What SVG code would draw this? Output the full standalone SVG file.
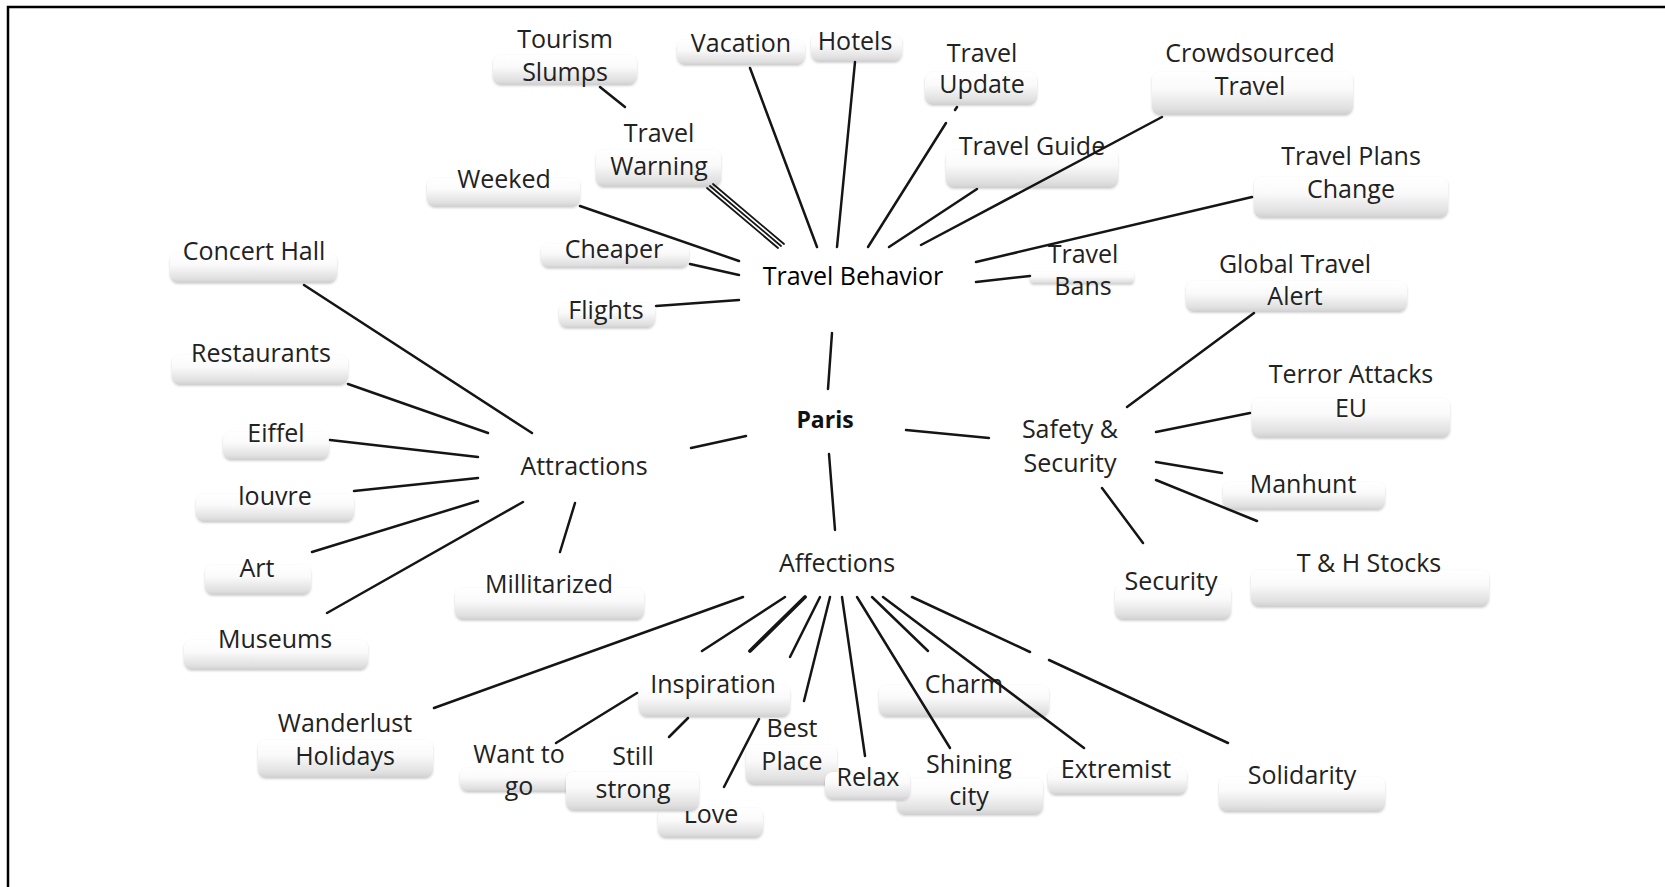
<svg xmlns="http://www.w3.org/2000/svg" width="1665" height="887" viewBox="0 0 1665 887">
<defs>
<linearGradient id="bg" x1="0" y1="0" x2="0" y2="1">
<stop offset="0" stop-color="#ffffff"/>
<stop offset="0.4" stop-color="#fafafa"/>
<stop offset="0.85" stop-color="#e0e0e0"/>
<stop offset="1" stop-color="#cfcfcf"/>
</linearGradient>
<filter id="sh" x="-10%" y="-20%" width="120%" height="150%">
<feDropShadow dx="0" dy="1" stdDeviation="1.2" flood-color="#000" flood-opacity="0.18"/>
</filter>
<style>
.box{fill:url(#bg);filter:url(#sh)}
.lbl{font-family:"Open Sans","Liberation Sans",sans-serif;font-size:25px;fill:#222;text-anchor:middle}
.main{font-family:"Open Sans","Liberation Sans",sans-serif;font-size:25px;fill:#000;text-anchor:middle}
.bold{font-family:"Open Sans","Liberation Sans",sans-serif;font-size:23px;font-weight:bold;fill:#111;text-anchor:middle}
.con line{stroke:#151515;stroke-width:2.5;stroke-linecap:round}
.frame{fill:none;stroke:#000;stroke-width:2.5}
</style>
</defs>
<rect width="1665" height="887" fill="#fff"/>
<path class="frame" d="M8,887 V7 H1665"/>

<g id="nodes">
<g id="n-tourism-slumps"><rect class="box" x="493" y="55" width="144" height="30" rx="8"/><text class="lbl"><tspan x="565" y="48">Tourism</tspan><tspan x="565" y="81">Slumps</tspan></text></g>
<g id="n-vacation"><rect class="box" x="677" y="40" width="128" height="25" rx="8"/><text class="lbl" x="741" y="52">Vacation</text></g>
<g id="n-hotels"><rect class="box" x="811" y="34" width="91" height="28" rx="8"/><text class="lbl" x="855" y="50">Hotels</text></g>
<g id="n-travel-update"><rect class="box" x="925" y="72" width="112" height="33" rx="8"/><text class="lbl"><tspan x="982" y="62">Travel</tspan><tspan x="982" y="93">Update</tspan></text></g>
<g id="n-crowdsourced"><rect class="box" x="1152" y="72" width="201" height="43" rx="8"/><text class="lbl"><tspan x="1250" y="62">Crowdsourced</tspan><tspan x="1250" y="95">Travel</tspan></text></g>
<g id="n-travel-warning"><rect class="box" x="596" y="150" width="125" height="37" rx="8"/><text class="lbl"><tspan x="659" y="142">Travel</tspan><tspan x="659" y="175">Warning</tspan></text></g>
<g id="n-travel-guide"><rect class="box" x="946" y="150" width="172" height="38" rx="8"/><text class="lbl" x="1032" y="155">Travel Guide</text></g>
<g id="n-weeked"><rect class="box" x="427" y="178" width="153" height="29" rx="8"/><text class="lbl" x="504" y="188">Weeked</text></g>
<g id="n-travel-plans-change"><rect class="box" x="1254" y="177" width="194" height="41" rx="8"/><text class="lbl"><tspan x="1351" y="165">Travel Plans</tspan><tspan x="1351" y="198">Change</tspan></text></g>
<g id="n-cheaper"><rect class="box" x="541" y="244" width="148" height="24" rx="8"/><text class="lbl" x="614" y="258">Cheaper</text></g>
<g id="n-flights"><rect class="box" x="559" y="303" width="96" height="25" rx="8"/><text class="lbl" x="606" y="319">Flights</text></g>
<g id="n-travel-bans"><rect class="box" x="1030" y="272" width="104" height="12" rx="4"/><text class="lbl"><tspan x="1083" y="263">Travel</tspan><tspan x="1083" y="295">Bans</tspan></text></g>
<g id="n-travel-behavior"><text class="main" x="853" y="285">Travel Behavior</text></g>
<g id="n-global-travel-alert"><rect class="box" x="1186" y="281" width="221" height="31" rx="8"/><text class="lbl"><tspan x="1295" y="273">Global Travel</tspan><tspan x="1295" y="305">Alert</tspan></text></g>
<g id="n-concert-hall"><rect class="box" x="170" y="253" width="167" height="30" rx="8"/><text class="lbl" x="254" y="260">Concert Hall</text></g>
<g id="n-restaurants"><rect class="box" x="172" y="355" width="176" height="30" rx="8"/><text class="lbl" x="261" y="362">Restaurants</text></g>
<g id="n-paris"><text class="bold" x="825" y="428">Paris</text></g>
<g id="n-terror-attacks-eu"><rect class="box" x="1252" y="398" width="198" height="40" rx="8"/><text class="lbl"><tspan x="1351" y="383">Terror Attacks</tspan><tspan x="1351" y="417">EU</tspan></text></g>
<g id="n-eiffel"><rect class="box" x="223" y="432" width="106" height="28" rx="8"/><text class="lbl" x="276" y="442">Eiffel</text></g>
<g id="n-attractions"><text class="lbl" x="584" y="475">Attractions</text></g>
<g id="n-safety-security"><text class="lbl"><tspan x="1070" y="438">Safety &amp;</tspan><tspan x="1070" y="472">Security</tspan></text></g>
<g id="n-louvre"><rect class="box" x="196" y="494" width="158" height="28" rx="8"/><text class="lbl" x="275" y="505">louvre</text></g>
<g id="n-manhunt"><rect class="box" x="1223" y="482" width="162" height="28" rx="8"/><text class="lbl" x="1303" y="493">Manhunt</text></g>
<g id="n-affections"><text class="lbl" x="837" y="572">Affections</text></g>
<g id="n-art"><rect class="box" x="205" y="565" width="106" height="30" rx="8"/><text class="lbl" x="257" y="577">Art</text></g>
<g id="n-millitarized"><rect class="box" x="455" y="588" width="189" height="32" rx="8"/><text class="lbl" x="549" y="593">Millitarized</text></g>
<g id="n-security"><rect class="box" x="1115" y="585" width="116" height="35" rx="8"/><text class="lbl" x="1171" y="590">Security</text></g>
<g id="n-th-stocks"><rect class="box" x="1251" y="570" width="238" height="37" rx="8"/><text class="lbl" x="1369" y="572">T &amp; H Stocks</text></g>
<g id="n-museums"><rect class="box" x="184" y="640" width="184" height="30" rx="8"/><text class="lbl" x="275" y="648">Museums</text></g>
<g id="n-inspiration"><rect class="box" x="639" y="685" width="151" height="32" rx="8"/><text class="lbl" x="713" y="693">Inspiration</text></g>
<g id="n-charm"><rect class="box" x="879" y="685" width="170" height="32" rx="8"/><text class="lbl" x="964" y="693">Charm</text></g>
<g id="n-wanderlust-holidays"><rect class="box" x="258" y="740" width="175" height="38" rx="8"/><text class="lbl"><tspan x="345" y="732">Wanderlust</tspan><tspan x="345" y="765">Holidays</tspan></text></g>
<g id="n-love"><rect class="box" x="658" y="808" width="105" height="30" rx="8"/><text class="lbl" x="711" y="823">Love</text></g>
<g id="n-want-to-go"><rect class="box" x="460" y="768" width="116" height="24" rx="8"/><text class="lbl"><tspan x="519" y="763">Want to</tspan><tspan x="519" y="795">go</tspan></text></g>
<g id="n-still-strong"><rect class="box" x="566" y="772" width="133" height="39" rx="8"/><text class="lbl"><tspan x="633" y="765">Still</tspan><tspan x="633" y="798">strong</tspan></text></g>
<g id="n-best-place"><rect class="box" x="746" y="745" width="91" height="40" rx="8"/><text class="lbl"><tspan x="792" y="737">Best</tspan><tspan x="792" y="770">Place</tspan></text></g>
<g id="n-shining-city"><rect class="box" x="897" y="778" width="146" height="37" rx="8"/><text class="lbl"><tspan x="969" y="773">Shining</tspan><tspan x="969" y="805">city</tspan></text></g>
<g id="n-relax"><rect class="box" x="825" y="772" width="85" height="28" rx="8"/><text class="lbl" x="868" y="786">Relax</text></g>
<g id="n-extremist"><rect class="box" x="1048" y="768" width="139" height="27" rx="8"/><text class="lbl" x="1116" y="778">Extremist</text></g>
<g id="n-solidarity"><rect class="box" x="1219" y="777" width="166" height="35" rx="8"/><text class="lbl" x="1302" y="784">Solidarity</text></g>
</g>

<g id="connectors" class="con">
<line x1="600" y1="87" x2="625" y2="107"/>
<line x1="750" y1="68" x2="817" y2="247"/>
<line x1="855" y1="62" x2="837" y2="247"/>
<line x1="957" y1="107" x2="955" y2="110"/>
<line x1="946" y1="123" x2="868" y2="247"/>
<line x1="977" y1="189" x2="889" y2="247"/>
<line x1="1162" y1="117" x2="921" y2="245"/>
<line x1="1252" y1="197" x2="976" y2="262"/>
<line x1="976" y1="282" x2="1030" y2="276"/>
<line x1="580" y1="206" x2="739" y2="261"/>
<line x1="707" y1="188" x2="778" y2="248" style="stroke-width:1.8"/>
<line x1="710" y1="186" x2="781" y2="246" style="stroke-width:1.8"/>
<line x1="713" y1="184" x2="784" y2="244" style="stroke-width:1.8"/>
<line x1="690" y1="264" x2="739" y2="275"/>
<line x1="656" y1="306" x2="739" y2="300"/>
<line x1="832" y1="333" x2="828" y2="389"/>
<line x1="746" y1="436" x2="691" y2="448"/>
<line x1="906" y1="430" x2="989" y2="438"/>
<line x1="829" y1="454" x2="835" y2="530"/>
<line x1="304" y1="285" x2="532" y2="433"/>
<line x1="348" y1="384" x2="488" y2="433"/>
<line x1="330" y1="440" x2="478" y2="457"/>
<line x1="354" y1="491" x2="478" y2="478"/>
<line x1="312" y1="552" x2="478" y2="501"/>
<line x1="327" y1="613" x2="523" y2="502"/>
<line x1="575" y1="503" x2="560" y2="552"/>
<line x1="1254" y1="313" x2="1127" y2="407"/>
<line x1="1250" y1="413" x2="1156" y2="432"/>
<line x1="1156" y1="462" x2="1222" y2="473"/>
<line x1="1156" y1="480" x2="1257" y2="521"/>
<line x1="1102" y1="488" x2="1143" y2="543"/>
<line x1="743" y1="597" x2="434" y2="708"/>
<line x1="785" y1="597" x2="702" y2="651"/>
<line x1="805" y1="597" x2="750" y2="651" style="stroke-width:3.8"/>
<line x1="820" y1="597" x2="790" y2="657"/>
<line x1="830" y1="597" x2="804" y2="701"/>
<line x1="842" y1="597" x2="865" y2="756"/>
<line x1="857" y1="597" x2="950" y2="748"/>
<line x1="872" y1="597" x2="928" y2="651"/>
<line x1="883" y1="597" x2="1084" y2="748"/>
<line x1="912" y1="597" x2="1030" y2="652"/>
<line x1="1049" y1="660" x2="1228" y2="743"/>
<line x1="637" y1="693" x2="556" y2="743"/>
<line x1="688" y1="718" x2="669" y2="737"/>
<line x1="759" y1="719" x2="724" y2="787"/>
</g>
</svg>
